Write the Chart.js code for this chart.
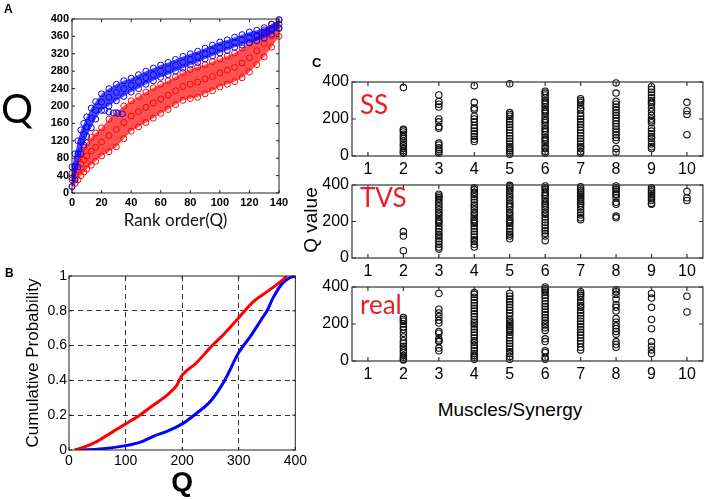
<!DOCTYPE html>
<html>
<head>
<meta charset="utf-8">
<script src="https://cdn.jsdelivr.net/npm/chart.js@4.4.1/dist/chart.umd.min.js"></script>
<style>
  body { margin: 0; background: #fff; }
  #fig { position: relative; width: 708px; height: 500px; overflow: hidden; font-family: "Liberation Sans", Arial, sans-serif; }
  .box { position: absolute; }
  .t { position: absolute; line-height: 1; white-space: nowrap; color: #000; }
  .red { color: #ec1c24; font-family: Lato, sans-serif; font-size: 26px; }
</style>
</head>
<body>
<div id="fig">
  <div class="box" style="left:0;top:0;width:300px;height:240px"><canvas id="chartA"></canvas></div>
  <div class="box" style="left:0;top:240px;width:310px;height:260px"><canvas id="chartB"></canvas></div>
  <div class="box" style="left:300px;top:62px;width:408px;height:118px"><canvas id="chartSS"></canvas></div>
  <div class="box" style="left:300px;top:165px;width:408px;height:118px"><canvas id="chartTVS"></canvas></div>
  <div class="box" style="left:300px;top:267px;width:408px;height:118px"><canvas id="chartReal"></canvas></div>

  <div class="t" style="left:4px;top:3px;font-weight:bold;font-size:12px">A</div>
  <div class="t" style="left:5px;top:267px;font-weight:bold;font-size:12px">B</div>
  <div class="t" style="left:312px;top:56px;font-weight:bold;font-size:13px">C</div>
  <div class="t" style="left:1px;top:88px;font-family:Lato,sans-serif;font-size:40px">Q</div>
  <div class="t" style="left:261px;top:209px;width:100px;height:22px;line-height:22px;text-align:center;font-size:19px;transform:rotate(-90deg)">Q value</div>
  <div class="t" style="left:410px;top:400px;width:200px;text-align:center;font-size:19px">Muscles/Synergy</div>
  <div class="t red" style="left:360px;top:91px">SS</div>
  <div class="t red" style="left:360px;top:184px">TVS</div>
  <div class="t red" style="left:360px;top:291px">real</div>
</div>

<script>
// panel A: rank order of Q, band edges and middle track
const rankGrid = [0, 2, 4, 6, 8, 10, 13, 16, 20, 25, 30, 35, 40, 45, 50, 55, 60, 65, 70, 75,
                  80, 85, 90, 95, 100, 105, 110, 115, 120, 125, 130, 135, 140];
const redLow  = [15, 22, 30, 40, 48, 55, 64, 73, 85, 95, 106, 125, 142, 152, 162, 172, 183, 192, 203, 213,
                 217, 220, 228, 235, 244, 250, 256, 265, 278, 295, 313, 335, 360];
const redMid  = [30, 42, 54, 67, 76, 85, 96, 105, 117, 132, 146, 162, 177, 187, 197, 207, 216, 225, 235, 245,
                 250, 255, 262, 268, 276, 282, 289, 299, 311, 327, 344, 361, 380];
const redHigh = [45, 62, 78, 95, 105, 115, 128, 138, 150, 170, 185, 200, 212, 222, 232, 242, 250, 258, 267, 277,
                 284, 290, 295, 302, 308, 315, 322, 333, 345, 360, 375, 388, 398];
const blueLow  = [15, 30, 60, 90, 110, 130, 150, 170, 190, 200, 212, 222, 232, 240, 250, 258, 266, 272, 280, 287,
                  294, 300, 308, 315, 322, 328, 335, 340, 345, 350, 356, 365, 378];
const blueMid  = [35, 60, 90, 118, 135, 152, 172, 190, 209, 220, 231, 240, 248, 256, 265, 272, 280, 286, 293, 300,
                  307, 313, 320, 327, 334, 340, 346, 352, 357, 362, 368, 376, 388];
const blueHigh = [60, 90, 120, 145, 160, 175, 195, 210, 228, 240, 250, 258, 264, 272, 280, 287, 294, 300, 307, 314,
                  320, 326, 333, 340, 347, 352, 358, 364, 370, 374, 380, 388, 398];
const blueTailRank = [22, 25, 28, 31, 34];
const blueTailQ    = [190, 186, 184, 183, 182];

// panel B: cumulative probability of Q
const cdfRedQ  = [10, 25, 50, 75, 100, 125, 150, 175, 190, 200, 225, 250, 275, 300, 325, 350, 375, 385];
const cdfRedP  = [0, 0.015, 0.05, 0.1, 0.15, 0.2, 0.26, 0.32, 0.37, 0.43, 0.5, 0.59, 0.67, 0.76, 0.85, 0.91, 0.97, 1];
const cdfBlueQ = [10, 50, 100, 130, 150, 175, 200, 225, 250, 275, 300, 320, 340, 350, 360, 375, 390, 400];
const cdfBlueP = [0, 0.005, 0.025, 0.05, 0.08, 0.11, 0.15, 0.21, 0.28, 0.4, 0.56, 0.65, 0.75, 0.8, 0.87, 0.95, 0.99, 1];

// panel C: Q values per number of muscles per synergy
const muscles = [1, 2, 3, 4, 5, 6, 7, 8, 9, 10];
const ssValues = [
  [],
  [370, 145, 140, 130, 118, 105, 95, 80, 65, 55, 40, 30, 20, 15],
  [330, 295, 280, 265, 200, 185, 160, 150, 70, 60, 45, 35, 25, 15],
  [380, 290, 260, 250, 215, 200, 185, 165, 150, 135, 120, 105, 90, 78],
  [390, 235, 225, 215, 200, 185, 170, 155, 140, 125, 110, 95, 80, 65, 50, 40, 30, 20, 10],
  [350, 340, 330, 315, 300, 290, 280, 265, 250, 240, 230, 215, 200, 190, 180, 165, 150, 140, 130, 115, 100, 90, 80, 65, 50, 40, 25, 15],
  [310, 300, 290, 275, 260, 250, 230, 215, 200, 185, 170, 155, 140, 125, 110, 95, 80, 65, 50, 40, 25, 15],
  [395, 340, 295, 280, 265, 250, 235, 220, 205, 190, 175, 160, 145, 130, 115, 100, 85, 40, 20],
  [375, 360, 345, 330, 315, 300, 290, 280, 260, 240, 220, 200, 190, 180, 150, 135, 120, 105, 95, 80, 65, 50, 40],
  [290, 245, 225, 115]
];
const tvsValues = [
  [],
  [145, 120, 40],
  [350, 340, 330, 320, 305, 290, 280, 265, 250, 240, 225, 210, 200, 190, 175, 160, 145, 130, 120, 105, 90, 75, 60, 50],
  [385, 375, 360, 350, 335, 320, 305, 290, 280, 265, 250, 240, 225, 210, 200, 190, 175, 160, 145, 130, 115, 100, 90, 75, 60],
  [398, 390, 380, 370, 355, 340, 330, 315, 300, 290, 280, 265, 250, 240, 225, 210, 200, 190, 175, 160, 145, 130, 120, 105],
  [395, 385, 375, 360, 350, 340, 325, 310, 300, 290, 280, 265, 250, 240, 225, 210, 195, 180, 165, 150, 135, 120, 95],
  [390, 380, 370, 360, 350, 340, 330, 320, 310, 300, 290, 280, 265, 250, 235, 220, 210],
  [395, 385, 375, 365, 350, 345, 330, 305, 295, 230, 220],
  [385, 375, 365, 355, 345, 335, 325, 315, 300, 295],
  [365, 330, 315]
];
const realValues = [
  [],
  [235, 225, 215, 200, 185, 170, 150, 130, 110, 95, 80, 70, 55, 45, 30, 20, 10, 5],
  [365, 280, 260, 240, 220, 205, 160, 150, 120, 110, 105, 70, 55],
  [370, 360, 345, 330, 315, 300, 285, 270, 255, 240, 225, 210, 200, 185, 170, 155, 140, 125, 110, 100, 85, 70, 55, 40, 30, 20, 10],
  [365, 350, 335, 320, 305, 290, 275, 260, 245, 225, 215, 205, 195, 185, 175, 165, 155, 140, 125, 110, 95, 80, 65, 50, 40, 25, 10],
  [400, 390, 380, 370, 355, 340, 325, 310, 295, 280, 265, 250, 235, 220, 205, 195, 180, 165, 120, 105, 55, 45, 20, 10],
  [375, 365, 355, 345, 330, 315, 300, 290, 275, 260, 245, 230, 215, 200, 185, 170, 155, 140, 125, 110, 95, 75, 60],
  [385, 375, 360, 335, 305, 290, 270, 230, 210, 190, 175, 160, 145, 105, 90, 75],
  [365, 340, 290, 225, 175, 105, 80, 60, 40],
  [350, 265]
];

const RED = '#ff0000';
const BLUE = '#0000ff';
const FONT = 'Liberation Sans';

const pts = (xs, ys) => xs.map((x, i) => ({ x: x, y: ys[i] }));

// matlab style box with inward ticks on all four sides
const framePlugin = {
  id: 'frame',
  afterDraw(chart, args, opts) {
    const { ctx, chartArea: a } = chart;
    const x = chart.scales.x, y = chart.scales.y;
    const len = opts.tick || 0;
    ctx.save();
    ctx.strokeStyle = opts.color || '#000';
    ctx.lineWidth = opts.width || 1;
    ctx.strokeRect(a.left, a.top, a.right - a.left, a.bottom - a.top);
    if (len) {
      ctx.beginPath();
      x.ticks.forEach(t => {
        const px = x.getPixelForValue(t.value);
        ctx.moveTo(px, a.bottom); ctx.lineTo(px, a.bottom - len);
        ctx.moveTo(px, a.top); ctx.lineTo(px, a.top + len);
      });
      y.ticks.forEach(t => {
        const py = y.getPixelForValue(t.value);
        ctx.moveTo(a.left, py); ctx.lineTo(a.left + len, py);
        ctx.moveTo(a.right, py); ctx.lineTo(a.right - len, py);
      });
      ctx.stroke();
    }
    ctx.restore();
  }
};

const setTicks = values => scale => { scale.ticks = values.map(v => ({ value: v })); };
const noGrid = { display: false, drawTicks: false };
const plain = v => String(v);

// ---------- A ----------
function bandSet(data, color, extra) {
  return Object.assign({
    data: data,
    showLine: true,
    borderWidth: 0,
    borderColor: 'rgba(0,0,0,0)',
    pointRadius: 3,
    pointBorderWidth: 1,
    pointBorderColor: color,
    pointBackgroundColor: 'rgba(0,0,0,0)',
    fill: false,
    clip: 6
  }, extra || {});
}

const tickA = { family: FONT, size: 11, weight: 'bold' };

new Chart(document.getElementById('chartA'), {
  type: 'line',
  data: {
    datasets: [
      bandSet(pts(rankGrid, blueLow), BLUE),
      bandSet(pts(rankGrid, blueHigh), BLUE, { fill: '-1', backgroundColor: 'rgba(0,0,255,0.72)' }),
      bandSet(pts(rankGrid, blueMid), BLUE, { showLine: false }),
      bandSet(pts(blueTailRank, blueTailQ), BLUE, { showLine: false }),
      bandSet(pts(rankGrid, redLow), RED),
      bandSet(pts(rankGrid, redHigh), RED, { fill: '-1', backgroundColor: 'rgba(255,0,0,0.68)' }),
      bandSet(pts(rankGrid, redMid), RED, { showLine: false })
    ]
  },
  options: {
    animation: false,
    responsive: true,
    maintainAspectRatio: false,
    layout: { padding: { top: 19, right: 21, left: 0, bottom: 0 } },
    plugins: { legend: { display: false }, tooltip: { enabled: false }, frame: { tick: 3, color: '#222' } },
    scales: {
      x: {
        type: 'linear', min: 0, max: 140,
        afterBuildTicks: setTicks([0, 20, 40, 60, 80, 100, 120, 140]),
        grid: noGrid, border: { display: false },
        ticks: { font: tickA, color: '#000', padding: 3, maxRotation: 0, autoSkip: false, callback: plain },
        title: { display: true, text: 'Rank order(Q)', color: '#111', font: { family: 'Lato', size: 17 }, padding: { top: 0, bottom: 9 } },
        afterFit(s) { s.height = 47; }
      },
      y: {
        type: 'linear', min: 0, max: 400,
        afterBuildTicks: setTicks([0, 40, 80, 120, 160, 200, 240, 280, 320, 360, 400]),
        grid: noGrid, border: { display: false },
        ticks: { font: tickA, color: '#000', padding: 3, autoSkip: false, callback: plain },
        afterFit(s) { s.width = 72; }
      }
    }
  },
  plugins: [framePlugin]
});

// ---------- B ----------
const tickB = { family: FONT, size: 14 };
const gridColor = edges => c => (c.tick && edges.includes(c.tick.value)) ? 'rgba(0,0,0,0)' : '#333';

new Chart(document.getElementById('chartB'), {
  type: 'line',
  data: {
    datasets: [
      { data: pts(cdfRedQ, cdfRedP), borderColor: RED, borderWidth: 3, pointRadius: 0, fill: false, cubicInterpolationMode: 'monotone' },
      { data: pts(cdfBlueQ, cdfBlueP), borderColor: BLUE, borderWidth: 3, pointRadius: 0, fill: false, cubicInterpolationMode: 'monotone' }
    ]
  },
  options: {
    animation: false,
    responsive: true,
    maintainAspectRatio: false,
    layout: { padding: { top: 36, right: 11, left: 0, bottom: 0 } },
    plugins: { legend: { display: false }, tooltip: { enabled: false }, frame: { tick: 3, color: '#222' } },
    scales: {
      x: {
        type: 'linear', min: 0, max: 400,
        afterBuildTicks: setTicks([0, 100, 200, 300, 400]),
        grid: { color: gridColor([0, 400]), lineWidth: 1, drawTicks: false },
        border: { display: false, dash: [5, 4] },
        ticks: { font: tickB, color: '#000', padding: 3, maxRotation: 0, autoSkip: false, callback: plain },
        title: { display: true, text: 'Q', color: '#000', font: { family: FONT, size: 28, weight: 'bold', lineHeight: 1 }, padding: { top: 0, bottom: 3 } },
        afterFit(s) { s.height = 50; }
      },
      y: {
        type: 'linear', min: 0, max: 1,
        afterBuildTicks: setTicks([0, 0.2, 0.4, 0.6, 0.8, 1]),
        grid: { color: gridColor([0, 1]), lineWidth: 1, drawTicks: false },
        border: { display: false, dash: [5, 4] },
        ticks: { font: tickB, color: '#000', padding: 2, autoSkip: false, callback: plain },
        title: { display: true, text: 'Cumulative Probability', color: '#000', font: { family: FONT, size: 17 }, padding: { top: 23, bottom: 0 } },
        afterFit(s) { s.width = 69; }
      }
    }
  },
  plugins: [framePlugin]
});

// ---------- C ----------
const tickC = { family: FONT, size: 16 };

function stripChart(id, values, axisHeight) {
  const data = values.flatMap((col, i) => col.map(q => ({ x: muscles[i], y: q })));
  return new Chart(document.getElementById(id), {
    type: 'scatter',
    data: {
      datasets: [{
        data: data,
        pointRadius: 3.2,
        pointBorderWidth: 1.1,
        pointBorderColor: '#111',
        pointBackgroundColor: 'rgba(0,0,0,0)',
        clip: 6
      }]
    },
    options: {
      animation: false,
      responsive: true,
      maintainAspectRatio: false,
      layout: { padding: { top: 20, right: 5, left: 0, bottom: 0 } },
      plugins: { legend: { display: false }, tooltip: { enabled: false }, frame: { tick: 4, color: '#333', width: 1.2 } },
      scales: {
        x: {
          type: 'linear', min: 0.55, max: 10.45,
          afterBuildTicks: setTicks(muscles),
          grid: noGrid, border: { display: false },
          ticks: { font: tickC, color: '#000', padding: 4, maxRotation: 0, autoSkip: false, callback: plain },
          afterFit(s) { s.height = axisHeight; }
        },
        y: {
          type: 'linear', min: 0, max: 400,
          afterBuildTicks: setTicks([0, 200, 400]),
          grid: noGrid, border: { display: false },
          ticks: { font: tickC, color: '#000', padding: 3, autoSkip: false, callback: plain },
          afterFit(s) { s.width = 52; }
        }
      }
    },
    plugins: [framePlugin]
  });
}

stripChart('chartSS', ssValues, 24);
stripChart('chartTVS', tvsValues, 25);
stripChart('chartReal', realValues, 24);
</script>
</body>
</html>
